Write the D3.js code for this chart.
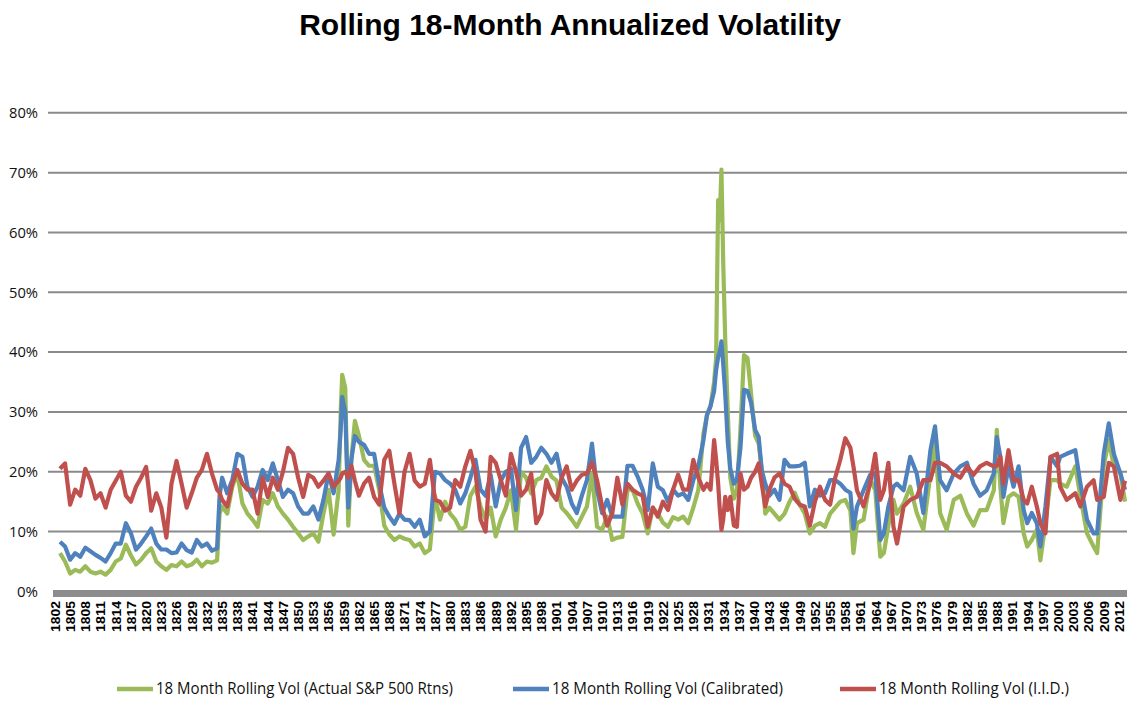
<!DOCTYPE html>
<html>
<head>
<meta charset="utf-8">
<script src="https://cdn.jsdelivr.net/npm/d3@7"></script>
<style>
  html, body { margin: 0; padding: 0; background: #fff; }
  svg { display: block; }
</style>
</head>
<body>
<svg id="chart" width="1127" height="702"></svg>
<script>
// decimal years of the sampled points
var dates = [1802,1803,1804,1805,1806,1807,1808,1809,1810,1811,1812,1813,1814,1815,1816,1817,1818,1819,1820,1821,
  1822,1823,1824,1825,1826,1827,1828,1829,1830,1831,1832,1833,1833.5,1834,1835,1836,1837,1838,1839,1840,
  1841,1842,1843,1844,1845,1846,1847,1848,1849,1850,1851,1852,1853,1854,1855,1856,1857,1857.4,1857.7,1858.3,
  1858.9,1859.5,1860.2,1861,1862,1863,1864,1865,1866,1867,1868,1869,1870,1871,1872,1873,1874,1875,1876,1877,
  1878,1879,1880,1881,1882,1883,1884,1885,1886,1887,1888,1889,1890,1891,1892,1893,1894,1895,1896,1897,
  1898,1899,1900,1901,1902,1903,1904,1905,1906,1907,1908,1909,1910,1911,1912,1913,1914,1915,1916,1917,
  1918,1919,1920,1921,1922,1923,1924,1925,1926,1927,1928,1929,1929.7,1930.4,1931.1,1931.5,1931.9,1932.2,1932.55,1932.9,
  1933.3,1933.8,1934.3,1935,1935.6,1936.3,1937,1937.7,1938.4,1939.2,1939.9,1940.5,1941.2,1942,1943,1944,1945,1946,1947,1948,
  1949,1950,1951,1952,1953,1954,1955,1956,1957,1958,1958.6,1959.3,1960.6,1961.9,1962.9,1963.9,1964.6,1965.5,1966.5,1967.2,
  1968.5,1969.8,1971.1,1972.4,1973.8,1974.7,1975.7,1977,1978.4,1979.7,1981,1982.3,1983.6,1984.9,1986.3,1986.9,1987.6,1988.2,1989.2,1990.2,
  1991.2,1992.2,1992.9,1993.8,1994.8,1995.5,1996.5,1997.5,1998.8,1999.4,2000.7,2002.4,2003.4,2004.7,2006,2006.7,2008,2009,2010,2011.3,
  2012.2];

// 18 Month Rolling Vol (Actual S&P 500 Rtns), percent
var actual = [6.4,5.0,3.0,3.6,3.3,4.2,3.3,3.0,3.3,2.8,3.6,5.0,5.5,7.8,6.0,4.5,5.3,6.4,7.2,5.0,
  4.2,3.6,4.4,4.2,5.0,4.2,4.5,5.3,4.2,5.0,4.8,5.2,13.0,14.2,13.0,17.5,19.7,14.7,13.0,12.0,
  10.8,15.3,14.7,16.4,14.2,13.0,12.0,10.8,9.7,8.6,9.2,9.7,8.3,13.0,17.0,9.5,17.0,30.0,36.2,34.0,
  11.0,22.0,28.5,26.0,22.0,21.0,21.0,17.0,11.0,9.5,8.6,9.2,8.8,8.6,7.5,8.0,6.4,7.0,16.0,12.0,
  15.0,13.0,12.0,10.3,10.8,16.0,17.5,14.2,12.0,14.0,9.2,12.0,14.0,16.9,10.3,20.0,19.0,16.4,18.6,19.0,
  20.9,19.2,18.5,14.0,13.1,12.0,10.8,12.5,14.2,19.7,10.8,10.3,12.5,8.6,9.0,9.1,17.0,17.0,14.7,13.0,
  9.7,14.0,13.0,11.5,10.8,12.4,12.0,12.5,11.4,14.0,17.0,26.4,29.5,31.0,35.0,39.0,65.4,62.0,70.5,55.0,
  42.0,30.0,19.0,15.5,17.0,27.0,39.5,39.0,33.0,26.0,24.7,20.3,13.0,14.0,13.0,12.0,13.0,15.0,16.5,14.5,
  13.0,9.7,11.0,11.4,10.8,13.0,14.0,15.0,15.3,13.5,6.4,11.4,12.0,18.6,17.0,5.8,6.4,11.0,15.3,13.0,
  14.7,17.5,13.1,10.3,19.7,25.3,13.1,10.3,15.3,16.0,13.0,11.0,13.6,13.6,16.9,27.0,17.5,11.4,15.8,16.4,
  15.8,9.7,7.5,8.6,10.3,5.2,11.4,18.6,18.6,18.0,17.5,20.9,15.8,9.7,7.5,6.4,20.9,25.3,20.9,19.7,
  15.0];

// 18 Month Rolling Vol (Calibrated), percent
var calibrated = [8.3,7.5,5.3,6.4,5.8,7.3,6.7,6.1,5.6,5.0,6.4,8.0,8.0,11.4,9.7,7.0,8.0,9.2,10.5,8.0,
  7.0,7.0,6.4,6.5,8.0,6.9,6.5,8.6,7.5,8.0,6.8,7.2,16.0,19.0,16.4,18.6,23.0,22.5,17.5,15.8,
  17.5,20.3,18.6,21.4,18.6,15.8,17.0,16.4,14.2,13.0,13.0,14.2,12.0,15.3,19.7,16.4,22.0,27.0,32.5,30.0,
  14.0,22.0,26.0,25.0,24.5,23.0,23.0,18.0,14.0,12.5,11.3,13.0,12.0,11.9,10.8,12.0,9.2,10.0,20.0,19.7,
  18.6,18.0,17.0,14.7,16.4,19.0,22.0,17.0,16.0,19.5,14.2,18.5,20.0,20.5,13.6,24.0,25.8,21.5,22.5,24.0,
  23.0,21.5,23.0,19.0,17.5,14.7,13.1,16.0,18.6,24.7,17.0,13.1,15.3,12.5,12.5,12.5,21.0,21.0,19.2,17.0,
  13.6,21.4,17.5,16.9,15.0,17.0,16.0,16.4,15.3,18.6,21.0,25.3,29.5,31.0,33.5,37.0,39.2,40.0,41.8,38.0,
  33.0,25.0,20.5,18.0,18.6,24.0,33.7,33.5,31.5,27.0,25.8,20.3,18.0,16.0,17.0,15.3,22.0,20.9,20.9,21.0,
  21.5,14.2,17.0,16.0,16.4,18.6,18.6,18.0,17.0,16.5,10.5,14.2,16.9,19.5,19.7,8.6,9.7,14.2,17.5,18.0,
  16.9,22.5,19.7,13.1,23.6,27.6,18.6,16.9,19.7,20.9,21.5,18.0,16.0,16.9,19.7,25.8,22.5,15.8,20.9,17.5,
  20.9,13.6,11.4,13.1,11.4,7.5,14.2,22.5,20.9,22.5,23.0,23.6,18.0,12.0,9.7,9.7,23.0,28.1,23.0,19.7,
  17.0];

// 18 Month Rolling Vol (I.I.D.), percent
var iid = [20.5,21.4,14.5,17.0,16.0,20.5,18.6,15.5,16.4,14.0,17.0,18.5,20.0,16.0,15.0,17.5,19.0,20.8,13.5,16.4,
  14.0,9.0,18.0,21.8,18.0,14.0,16.4,19.0,20.3,23.0,19.7,17.0,16.5,15.3,14.2,18.0,20.3,18.0,17.0,17.0,
  13.0,19.0,15.8,19.0,17.0,20.0,24.0,23.0,19.0,15.8,19.5,19.0,17.5,18.5,19.7,17.5,18.5,19.0,19.7,20.0,
  19.0,21.0,18.5,16.0,18.0,19.0,15.8,14.5,22.0,23.5,18.0,13.0,20.0,23.0,18.5,17.5,18.0,22.0,15.3,15.0,
  13.5,14.0,18.6,17.5,20.9,23.5,20.0,12.0,10.0,22.5,21.5,18.6,16.0,23.0,20.0,16.0,17.0,19.7,11.4,13.0,
  18.6,16.4,15.3,19.0,20.9,17.0,18.5,19.5,19.7,21.5,18.6,14.2,11.0,13.0,19.0,14.5,18.0,17.0,16.4,16.0,
  10.8,14.0,12.5,15.0,13.6,17.0,19.5,17.0,17.0,22.0,19.0,17.0,18.0,17.0,25.3,22.0,18.0,14.0,10.3,12.0,
  15.8,13.6,15.8,11.0,10.8,19.7,17.0,17.5,19.0,20.0,21.4,18.0,14.2,17.0,19.0,19.7,18.0,17.5,15.5,14.5,
  14.2,11.0,15.0,17.5,15.3,14.5,19.0,22.0,25.6,24.0,20.9,16.9,14.2,18.0,23.0,15.3,16.9,21.5,10.8,8.0,
  14.2,15.3,15.8,18.6,18.6,21.5,21.5,20.9,19.7,19.0,20.9,19.5,20.9,21.5,20.9,21.0,22.5,18.0,23.6,18.6,
  18.6,15.3,14.7,17.5,14.2,11.4,9.7,22.5,23.0,17.5,15.3,16.4,14.2,17.5,18.6,15.3,15.8,21.5,20.9,15.3,
  18.5];

var seriesNames = ["18 Month Rolling Vol (Actual S&P 500 Rtns)", "18 Month Rolling Vol (Calibrated)", "18 Month Rolling Vol (I.I.D.)"];
var seriesColors = ["#9BBB59", "#4F81BD", "#C0504D"];
var yTicks = [0, 10, 20, 30, 40, 50, 60, 70, 80];
var xTickYears = d3.range(1802, 2013, 3);

var svg = d3.select("#chart");

var x = d3.scaleLinear().domain([1802, 2012.2]).range([60, 1125]);
var y = d3.scaleLinear().domain([0, 80]).range([591.4, 112.8]);

// title
svg.append("text")
    .attr("x", 570)
    .attr("y", 35)
    .attr("text-anchor", "middle")
    .style("font-family", "'Liberation Sans', Arial, sans-serif")
    .style("font-weight", "bold")
    .style("font-size", "30px")
    .text("Rolling 18-Month Annualized Volatility");

// gridlines
svg.append("g").selectAll("line")
    .data(yTicks.slice(1))
    .enter().append("line")
    .attr("x1", 48).attr("x2", 1127)
    .attr("y1", function(d){ return y(d); })
    .attr("y2", function(d){ return y(d); })
    .attr("stroke", "#8a8a8a")
    .attr("stroke-width", 2);

// y labels
svg.append("g").selectAll("text")
    .data(yTicks)
    .enter().append("text")
    .attr("x", 38)
    .attr("y", function(d){ return y(d); })
    .attr("dy", "0.35em")
    .attr("text-anchor", "end")
    .attr("textLength", function(d){ return d === 0 ? 21 : 29; })
    .attr("lengthAdjust", "spacingAndGlyphs")
    .style("font-family", "'Open Sans', 'Liberation Sans', sans-serif")
    .style("font-size", "15px")
    .style("fill", "#111")
    .text(function(d){ return d + "%"; });

// x axis band (dense monthly tick marks)
svg.append("rect")
    .attr("x", 53).attr("y", 590)
    .attr("width", 1127 - 53).attr("height", 7)
    .attr("fill", "#8c8c8c");

// x labels
svg.append("g").selectAll("text")
    .data(xTickYears)
    .enter().append("text")
    .attr("transform", function(d){ return "translate(" + (x(d) - 5) + ",601) rotate(-90)"; })
    .attr("dy", "0.36em")
    .attr("text-anchor", "end")
    .attr("textLength", 31)
    .attr("lengthAdjust", "spacingAndGlyphs")
    .style("font-family", "'Liberation Sans', Arial, sans-serif")
    .style("font-weight", "bold")
    .style("font-size", "13.5px")
    .text(function(d){ return d; });

// lines
var seriesValues = [actual, calibrated, iid];
var line = d3.line()
    .x(function(d, i){ return x(dates[i]); })
    .y(function(d){ return y(d); });

svg.append("g").selectAll("path")
    .data(seriesValues)
    .enter().append("path")
    .attr("d", line)
    .attr("fill", "none")
    .attr("stroke", function(d, i){ return seriesColors[i]; })
    .attr("stroke-width", 4.2)
    .attr("stroke-linejoin", "round");

// legend
var legendX = [117, 513, 840];
var legendLen = [297, 231, 190];
var legend = svg.append("g").selectAll("g")
    .data(seriesNames)
    .enter().append("g")
    .attr("transform", function(d, i){ return "translate(" + legendX[i] + ",689)"; });

legend.append("line")
    .attr("x1", 0).attr("x2", 36)
    .attr("stroke", function(d, i){ return seriesColors[i]; })
    .attr("stroke-width", 4.5);

legend.append("text")
    .attr("x", 39)
    .attr("dy", "0.35em")
    .attr("textLength", function(d, i){ return legendLen[i]; })
    .attr("lengthAdjust", "spacingAndGlyphs")
    .style("font-family", "'Open Sans', 'Liberation Sans', sans-serif")
    .style("font-size", "15.5px")
    .style("fill", "#111")
    .text(function(d){ return d; });
</script>
</body>
</html>
